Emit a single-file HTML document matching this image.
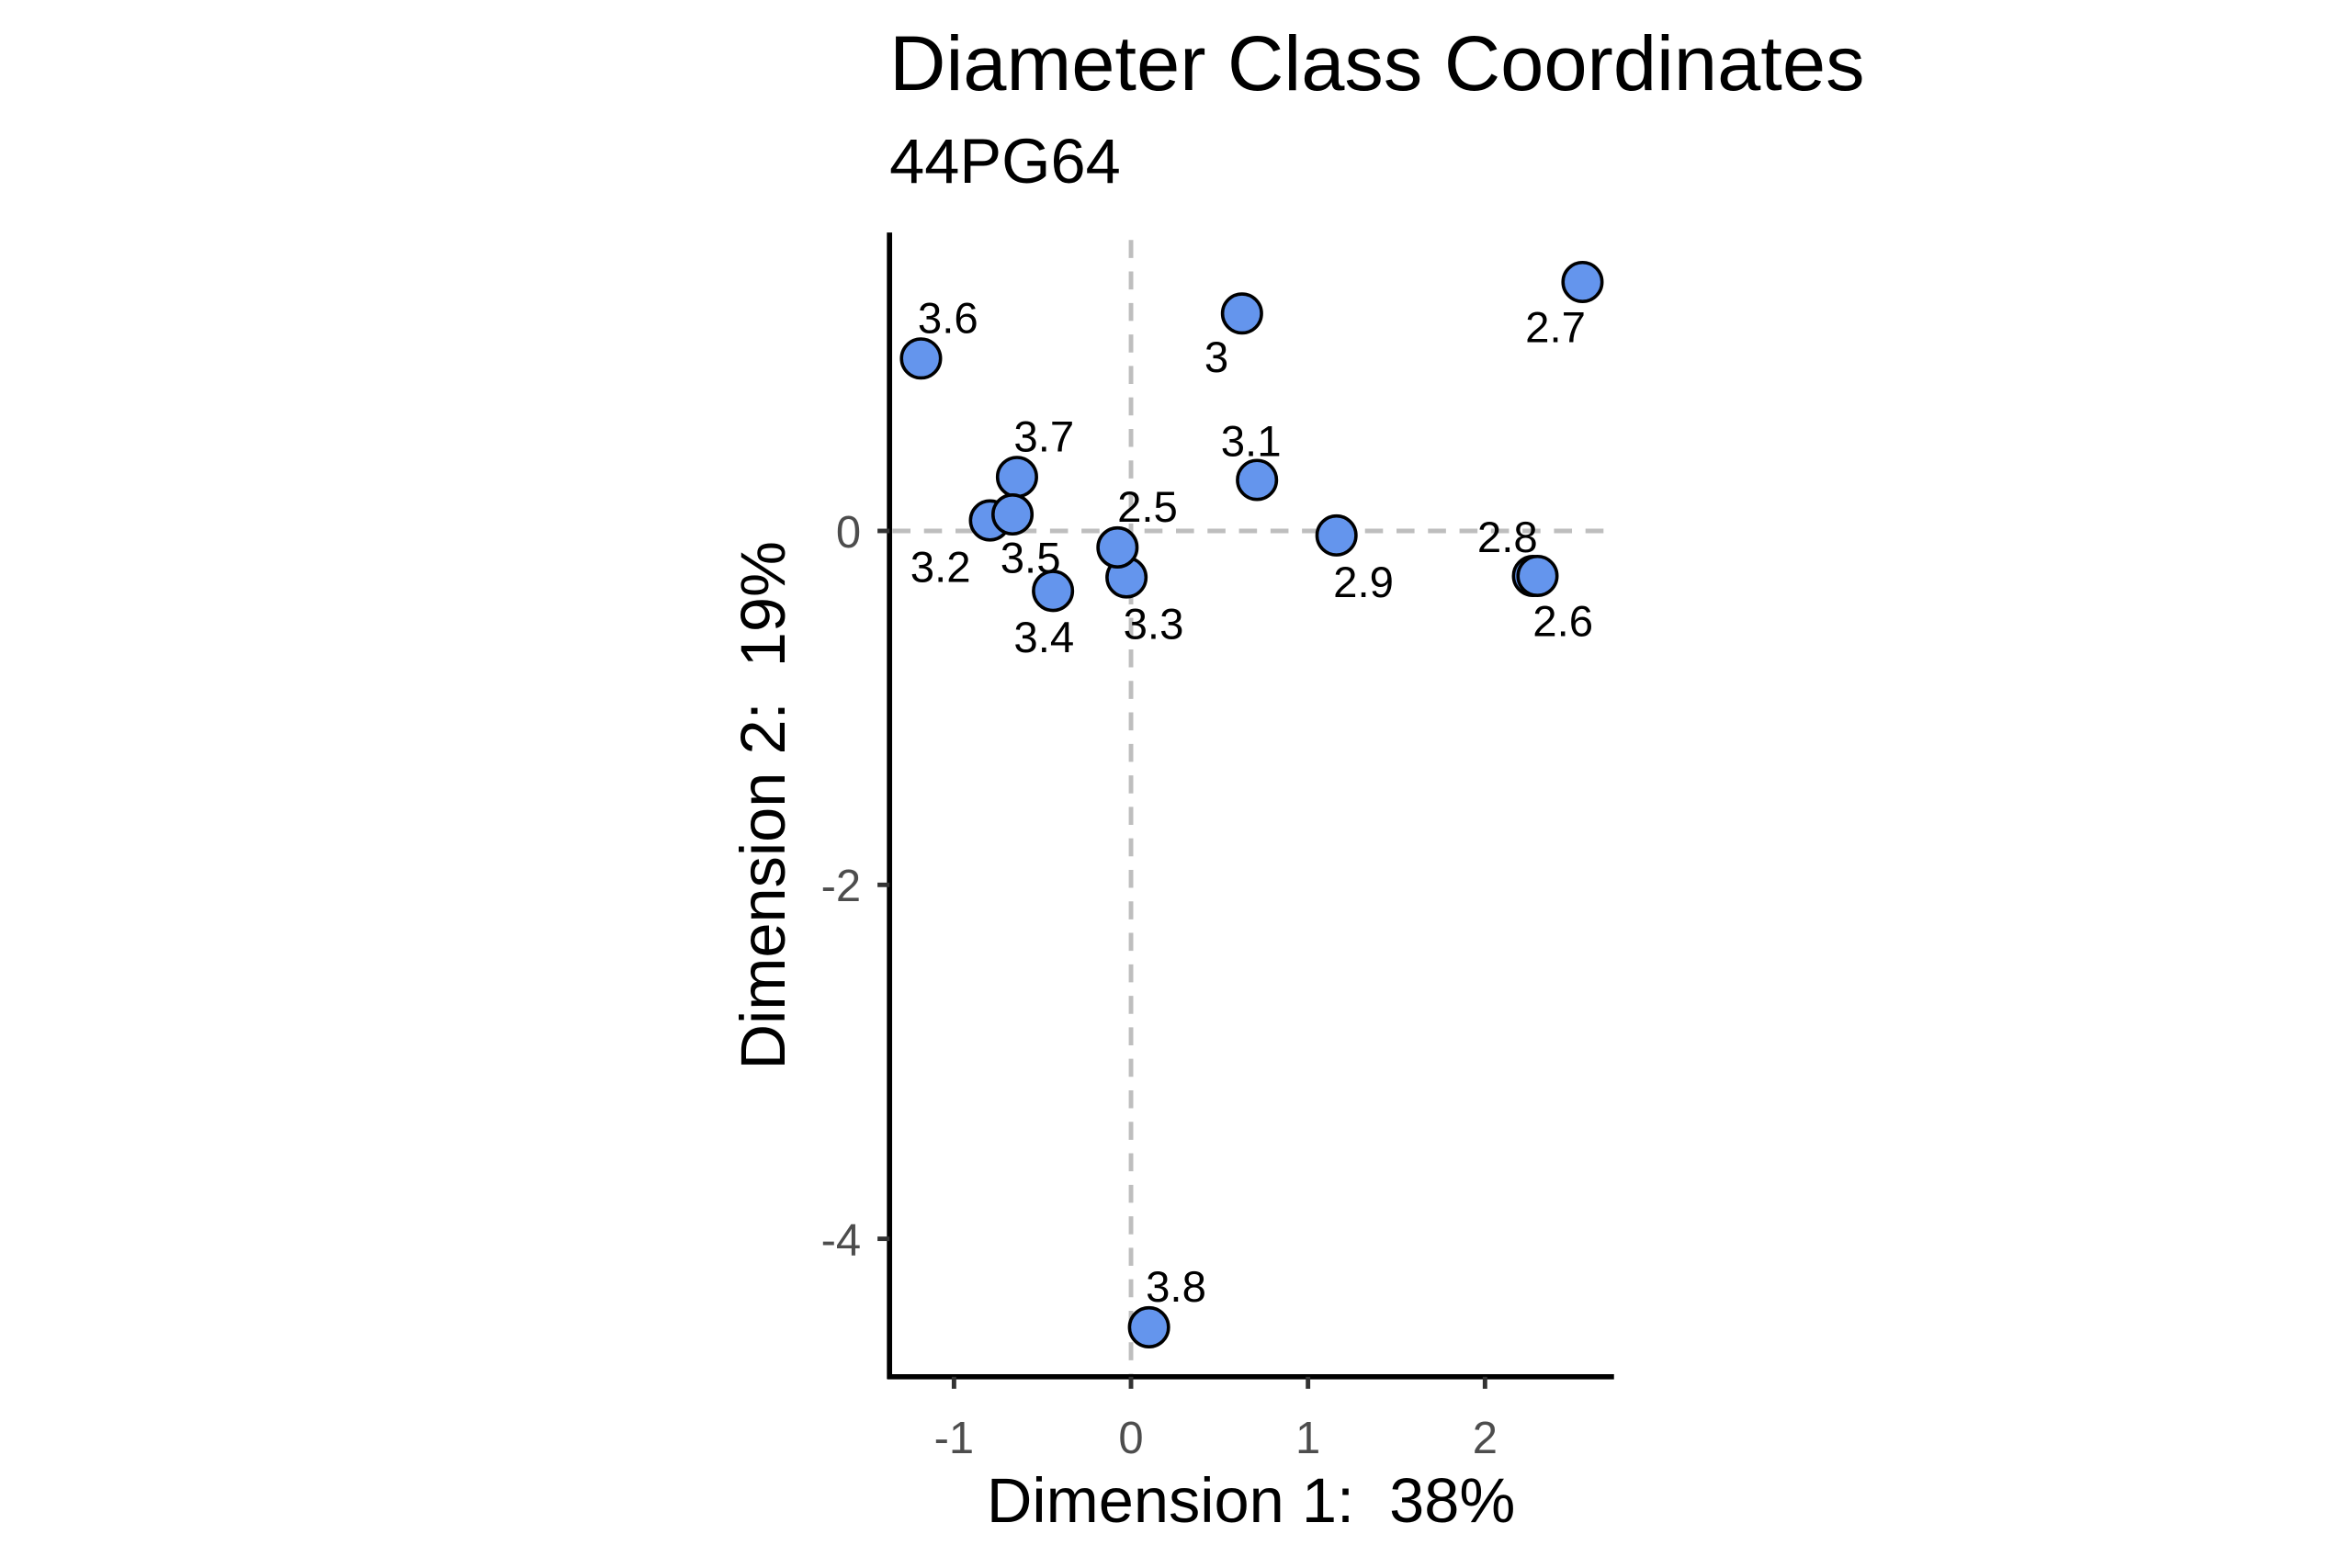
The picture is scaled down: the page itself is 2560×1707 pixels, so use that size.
<!DOCTYPE html>
<html><head><style>html,body{margin:0;padding:0;background:#fff}svg{display:block}</style></head><body>
<svg width="2560" height="1707" viewBox="0 0 1568 1045.5" xmlns="http://www.w3.org/2000/svg" font-family="Liberation Sans, Arial, sans-serif">
<rect width="1568" height="1045.5" fill="#fff"/>
<text x="593" y="60" font-size="52">Diameter Class Coordinates</text>
<text x="593" y="122" font-size="42">44PG64</text>
<g stroke="#bebebe" stroke-width="3" stroke-dasharray="12,9">
<line x1="754" y1="160" x2="754" y2="918"/>
<line x1="595" y1="354" x2="1076" y2="354"/>
</g>
<g stroke="#000" stroke-width="3.5">
<line x1="593" y1="155" x2="593" y2="919.5"/>
<line x1="591.5" y1="918" x2="1076" y2="918"/>
</g>
<g stroke="#333" stroke-width="3">
<line x1="585" y1="354" x2="593" y2="354"/><line x1="585" y1="590" x2="593" y2="590"/><line x1="585" y1="826" x2="593" y2="826"/>
<line x1="636" y1="918" x2="636" y2="926"/><line x1="754" y1="918" x2="754" y2="926"/><line x1="872" y1="918" x2="872" y2="926"/><line x1="990" y1="918" x2="990" y2="926"/>
</g>
<g fill="#4d4d4d" font-size="30">
<text x="574" y="365" text-anchor="end">0</text>
<text x="574" y="601" text-anchor="end">-2</text>
<text x="574" y="837" text-anchor="end">-4</text>
<text x="636" y="969" text-anchor="middle">-1</text>
<text x="754" y="969" text-anchor="middle">0</text>
<text x="872" y="969" text-anchor="middle">1</text>
<text x="990" y="969" text-anchor="middle">2</text>
</g>
<text x="834" y="1015" font-size="42" text-anchor="middle">Dimension 1:&#160; 38%</text>
<text transform="translate(523,537) rotate(-90)" font-size="42" text-anchor="middle">Dimension 2:&#160; 19%</text>
<g fill="#6495ed" stroke="#000" stroke-width="2.2">
<circle cx="614" cy="239" r="13"/><circle cx="828" cy="209" r="13"/><circle cx="1055" cy="188" r="13"/>
<circle cx="678" cy="318" r="13"/><circle cx="838" cy="320" r="13"/><circle cx="660" cy="347" r="13"/>
<circle cx="675" cy="343" r="13"/><circle cx="751" cy="385" r="13"/><circle cx="745" cy="365" r="13"/>
<circle cx="702" cy="394" r="13"/><circle cx="891" cy="357" r="13"/><circle cx="1022" cy="384" r="13"/>
<circle cx="1025" cy="384" r="13"/><circle cx="766" cy="885" r="13"/>
</g>
<g font-size="29" text-anchor="middle">
<text x="632" y="222">3.6</text><text x="811" y="248">3</text><text x="1037" y="228">2.7</text>
<text x="696" y="301">3.7</text><text x="834" y="304">3.1</text><text x="627" y="388">3.2</text>
<text x="687" y="382">3.5</text><text x="765" y="348">2.5</text><text x="769" y="426">3.3</text>
<text x="696" y="435">3.4</text><text x="909" y="398">2.9</text><text x="1005" y="368">2.8</text>
<text x="1042" y="424">2.6</text><text x="784" y="868">3.8</text>
</g>
</svg>
</body></html>
